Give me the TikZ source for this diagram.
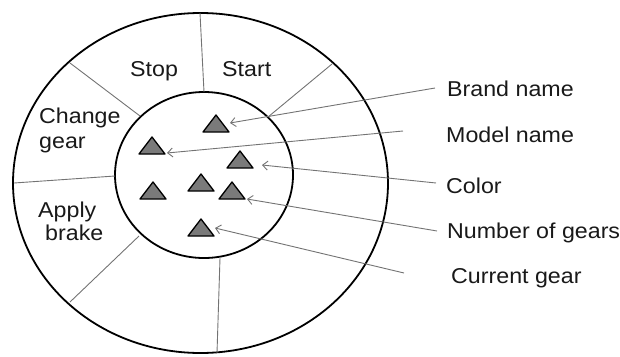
\documentclass[tikz,border=0pt]{standalone}
\usepackage{fontspec}
\setmainfont{Liberation Sans}[FakeStretch=1.08]
\usetikzlibrary{arrows.meta}
\tikzset{
  rim/.style={draw=black, line width=1.8pt},
  spoke/.style={draw=black!55, line width=0.9pt},
  pointer/.style={draw=black!55, line width=0.9pt, -{Straight Barb[length=5pt,width=9pt,line width=0.9pt]}},
  lbl/.style={anchor=base west, inner sep=0pt, font=\fontsize{21.5}{26}\selectfont, text=black!90},
  trishape/.style={fill=black!52, draw=black, line width=1.3pt, line join=round},
  tri/.pic={\path[trishape] (-13,8) -- (0,-9) -- (13,8) -- cycle;}
}
\begin{document}
\begin{tikzpicture}[x=1pt,y=-1pt]
\useasboundingbox (0,0) rectangle (620,356);
% rings
\path[rim] (200.5,183) ellipse [x radius=187.5pt, y radius=170pt];
\path[rim] (204,175) ellipse [x radius=89pt, y radius=83pt];
% spokes
\coordinate (i1) at (204,92);   \coordinate (o1) at (200,13);
\coordinate (i2) at (268,117);  \coordinate (o2) at (332,64);
\coordinate (i3) at (140,116);  \coordinate (o3) at (70,63);
\coordinate (i4) at (115,176);  \coordinate (o4) at (14,183);
\coordinate (i5) at (139,236);  \coordinate (o5) at (70,302);
\coordinate (i6) at (220,258);  \coordinate (o6) at (217,353);
\foreach \k in {1,...,6} {\path[spoke] (i\k) -- (o\k);}
% segment labels
\node[lbl] (stop) at (130,76) {Stop};
\node[lbl] (start) at (222,76) {Start};
\node[lbl] (change) at (39,123) {Change};
\node[lbl] (gear) at (39,148) {gear};
\node[lbl] (apply) at (38,217) {Apply};
\node[lbl] (brake) at (45,240) {brake};
% triangles
\pic at (216,124) {tri};
\pic at (152,146) {tri};
\pic at (240,160) {tri};
\pic at (201,183) {tri};
\pic at (153,191) {tri};
\pic at (232,191) {tri};
\pic at (201,228) {tri};
% attribute labels
\node[lbl] (brand) at (447,96) {Brand name};
\node[lbl] (model) at (446,142) {Model name};
\node[lbl] (color) at (446,193) {Color};
\node[lbl] (number) at (447,238) {Number of gears};
\node[lbl] (current) at (451,283) {Current gear};
% pointers
\coordinate (bs) at (435,88);  \coordinate (bt) at (230,123);
\coordinate (ms) at (403,131); \coordinate (mt) at (167,153);
\coordinate (cs) at (436,183); \coordinate (ct) at (262,165);
\coordinate (ns) at (437,231); \coordinate (nt) at (247,199);
\coordinate (us) at (404,273); \coordinate (ut) at (215,228);
\path[pointer] (bs) -- (bt);
\path[pointer] (ms) -- (mt);
\path[pointer] (cs) -- (ct);
\path[pointer] (ns) -- (nt);
\path[pointer] (us) -- (ut);
\end{tikzpicture}
\end{document}
